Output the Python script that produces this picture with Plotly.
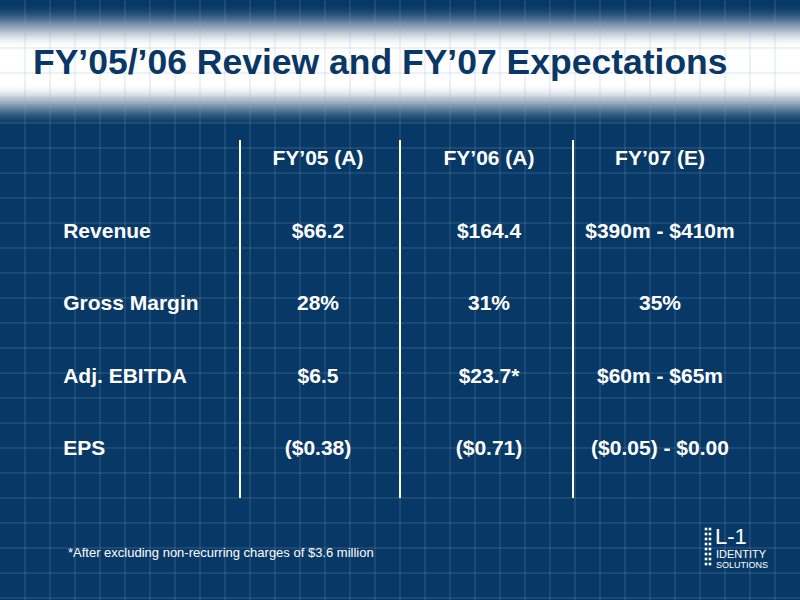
import plotly.graph_objects as go

# ---- data ----
title_text = "FY’05/’06 Review and FY’07 Expectations"
col_headers = ["FY’05 (A)", "FY’06 (A)", "FY’07 (E)"]
row_labels = ["Revenue", "Gross Margin", "Adj. EBITDA", "EPS"]
fy05_values = ["$66.2", "28%", "$6.5", "($0.38)"]
fy06_values = ["$164.4", "31%", "$23.7*", "($0.71)"]
fy07_values = ["$390m - $410m", "35%", "$60m - $65m", "($0.05) - $0.00"]
footnote = "*After excluding non-recurring charges of $3.6 million"

W, H = 800, 600
NAVY = (8, 57, 102)
FONT = "Liberation Sans, Arial, sans-serif"


def px(x):
    return x / W


def py(y):
    return 1 - y / H


def rgb(c):
    return "rgb(%d,%d,%d)" % c


fig = go.Figure()

HDR = "header"
cats = [HDR] + row_labels

# header row
fig.add_trace(go.Scatter(
    x=list(range(len(col_headers))), y=[HDR] * len(col_headers),
    text=col_headers, mode="text", textposition="middle center",
    textfont=dict(family=FONT, size=21, color="white", weight="bold"),
    hoverinfo="skip", showlegend=False))

# row labels (left aligned)
fig.add_trace(go.Scatter(
    x=[-1.49] * len(row_labels), y=row_labels, text=row_labels,
    mode="text", textposition="middle right",
    textfont=dict(family=FONT, size=21, color="white", weight="bold"),
    hoverinfo="skip", showlegend=False))

for i, vals in enumerate([fy05_values, fy06_values, fy07_values]):
    fig.add_trace(go.Scatter(
        x=[i] * len(vals), y=row_labels, text=vals, mode="text",
        textposition="middle center",
        textfont=dict(family=FONT, size=21, color="white", weight="bold"),
        hoverinfo="skip", showlegend=False))

shapes = []

# title band gradient (white glow)
def alpha_at(y):
    if y < 4:
        return 0.0
    if y < 48:
        t = (y - 4) / 44
        return t * t * (3 - 2 * t)
    if y < 84:
        return 1.0
    if y < 126:
        t = 1 - (y - 84) / 42
        return t * t * (3 - 2 * t)
    return 0.0

for y in range(0, 128, 2):
    a = alpha_at(y + 1)
    if a <= 0:
        continue
    c = tuple(int(round(NAVY[k] + (255 - NAVY[k]) * a)) for k in range(3))
    shapes.append(dict(type="rect", xref="paper", yref="paper",
                       x0=0, x1=1, y0=py(y + 2), y1=py(y),
                       fillcolor=rgb(c), line=dict(width=0), layer="below"))

# background grid
GRID = "rgba(140,170,205,0.30)"
for gx in range(25, W, 25):
    shapes.append(dict(type="line", xref="paper", yref="paper",
                       x0=px(gx), x1=px(gx), y0=0, y1=1,
                       line=dict(color=GRID, width=1), layer="below"))
for gy in range(23, H, 25):
    shapes.append(dict(type="line", xref="paper", yref="paper",
                       x0=0, x1=1, y0=py(gy), y1=py(gy),
                       line=dict(color=GRID, width=1), layer="below"))

# column separators
for sx in [240, 400, 573]:
    shapes.append(dict(type="line", xref="paper", yref="paper",
                       x0=px(sx), x1=px(sx), y0=py(140), y1=py(498),
                       line=dict(color="white", width=2), layer="above"))

# logo dots
for cx in [706, 710]:
    for ry in range(0, 8):
        yy = 529 + ry * 5
        shapes.append(dict(type="rect", xref="paper", yref="paper",
                           x0=px(cx - 1.3), x1=px(cx + 1.3),
                           y0=py(yy + 1.3), y1=py(yy - 1.3),
                           fillcolor="white", line=dict(width=0), layer="above"))

annotations = [
    dict(text=title_text, xref="paper", yref="paper", x=px(31), y=py(62),
         xanchor="left", yanchor="middle", showarrow=False,
         font=dict(family=FONT, size=35.5, color="rgb(10,56,102)", weight="bold")),
    dict(text=footnote, xref="paper", yref="paper", x=px(66), y=py(552),
         xanchor="left", yanchor="middle", showarrow=False,
         font=dict(family=FONT, size=13, color="white")),
    dict(text="L-1", xref="paper", yref="paper", x=px(713), y=py(536),
         xanchor="left", yanchor="middle", showarrow=False,
         font=dict(family="Liberation Sans Narrow, " + FONT, size=22,
                   color="white")),
    dict(text="<span style='font-size:11px'>IDENTITY</span><br>"
              "<span style='font-size:9px'>SOLUTIONS</span>",
         xref="paper", yref="paper", x=px(714), y=py(559),
         xanchor="left", yanchor="middle", align="left", showarrow=False,
         font=dict(family=FONT, size=7.5, color="white")),
]

fig.update_layout(
    width=W, height=H, margin=dict(l=0, r=0, t=0, b=0),
    paper_bgcolor=rgb(NAVY), plot_bgcolor="rgba(0,0,0,0)",
    shapes=shapes, annotations=annotations, showlegend=False,
)
fig.update_xaxes(range=[-318 / 171, (W - 318) / 171], visible=False,
                 fixedrange=True)
fig.update_yaxes(type="category", categoryorder="array", categoryarray=cats,
                 range=[(H - 160) / 72.5, -160 / 72.5], visible=False,
                 fixedrange=True)

fig.write_html("out.html", config={"displayModeBar": False},
               post_script="document.body.style.margin='0';"
                           "document.body.style.overflow='hidden';")
